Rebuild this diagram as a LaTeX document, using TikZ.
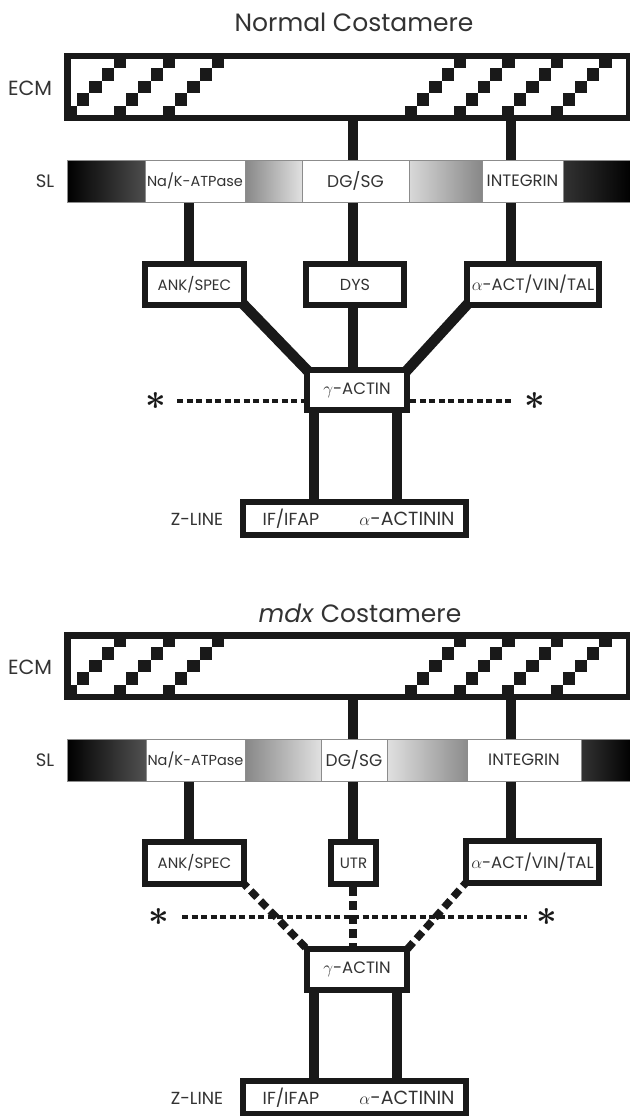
\documentclass[tikz,border=0pt]{standalone}
\usepackage{fontspec}
\setmainfont{Poppins}
\usetikzlibrary{calc}
\pgfdeclarelayer{background}
\pgfsetlayers{background,main}
\newcommand{\txtsize}[1]{\fontsize{#1}{#1}\selectfont}
\newcommand{\ecmbar}[2]{
	\node[ecmbox] (#1) at (348.25,#2) {};
	\foreach \hx in {65,114,163,405,453.5,502,550.5}
		\foreach \hj in {0,...,4}
			\fill[black!90] ({\hx+12.2*\hj},{#2+25-12.5*\hj-6.25}) rectangle +(12.2,12.5);
}
\newcommand{\slpart}[6]{
	\node[slbox,#5,minimum width={(#3-#2)*1pt}] (#1) at ({(#2+#3)/2},#4) {#6};
}
\newcommand{\bigast}{\scalebox{3.6}{\boldmath$\ast$}}

\begin{document}
\begin{tikzpicture}[x=1pt,y=-1pt,
	ecmbox/.style={draw=black!90,line width=6.5pt,fill=white,minimum width=561.5pt,minimum height=61.5pt,inner sep=0},
	slbox/.style={draw=black!45,line width=0.7pt,minimum height=42pt,inner sep=0,text=black!80},
	pbox/.style={draw=black!90,line width=6.5pt,fill=white,inner sep=0,text=black!80},
	lbl/.style={text=black!80,inner sep=0},
	astnode/.style={inner sep=0,text=black!90},
	link/.style={line width=10.5pt,black!90},
	slant/.style={shorten <=-9pt,shorten >=-9pt},
	dashlink/.style={line width=7.5pt,black!90,dash pattern=on 9pt off 5pt},
	dotline/.style={line width=4.5pt,black!90,dash pattern=on 6pt off 3.5pt}]
	\useasboundingbox (0,0) rectangle (629,1116);

	\coordinate (colA) at (189,0);
	\coordinate (colB) at (353,0);
	\coordinate (colC) at (511,0);
	\coordinate (colD) at (314,0);
	\coordinate (colE) at (397,0);

	% normal costamere
	\node[lbl] (titleA) at (354,22) {\txtsize{25}Normal Costamere};
	\node[lbl] (ecmlabA) at (30,88) {\txtsize{20.5}ECM};
	\ecmbar{ecmA}{87}
	\node[lbl] (sllabA) at (45,181) {\txtsize{18}SL};
	\slpart{slA1}{67}{145}{181}{left color=black,right color=black!70}{}
	\slpart{nakA}{145}{245}{181}{fill=white}{\txtsize{14.5}Na/K-ATPase}
	\slpart{grA1}{245}{302}{181}{left color=black!47,right color=black!12}{}
	\slpart{dgA}{302}{409}{181}{fill=white}{\txtsize{17}DG/SG}
	\slpart{grA2}{409}{482}{181}{left color=black!15,right color=black!47}{}
	\slpart{intA}{482}{563}{181}{fill=white}{\txtsize{16.5}INTEGRIN}
	\slpart{slA2}{563}{632}{181}{left color=black!80,right color=black}{}

	\node[pbox,minimum width=99pt,minimum height=41pt] (ankA) at (194.5,284.5) {\txtsize{15}ANK/SPEC};
	\node[pbox,minimum width=98pt,minimum height=41pt] (dysA) at (355,284.5) {\txtsize{16}DYS};
	\node[pbox,minimum width=132pt,minimum height=41pt] (actA) at (533,284.5) {\txtsize{16.5}$\alpha$-ACT/VIN/TAL};
	\node[pbox,minimum width=100pt,minimum height=40pt] (gamA) at (357,390) {\txtsize{16.5}$\gamma$-ACTIN};
	\node[pbox,minimum width=223pt,minimum height=33pt] (zA) at (354.5,518.5) {};
	\node[lbl] (iffA) at (291,519) {\txtsize{17.5}IF/IFAP};
	\node[lbl] (actnA) at (407,519) {\txtsize{19}$\alpha$-ACTININ};
	\node[lbl] (zlabA) at (197,519) {\txtsize{17.5}Z-LINE};
	\node[astnode] (astA1) at (156,401) {\bigast};
	\node[astnode] (astA2) at (535,401) {\bigast};

	\begin{pgfonlayer}{background}
	\draw[link] (ecmA.south -| colB) -- (dgA.north -| colB);
	\draw[link] (ecmA.south -| colC) -- (intA.north -| colC);
	\draw[link] (nakA.south -| colA) -- (ankA.north -| colA);
	\draw[link] (dgA.south -| colB) -- (dysA.north -| colB);
	\draw[link] (intA.south -| colC) -- (actA.north -| colC);
	\draw[link,slant] (ankA.south east) -- (gamA.north west);
	\draw[link] (dysA.south -| colB) -- (gamA.north -| colB);
	\draw[link,slant] (actA.south west) -- (gamA.north east);
	\draw[link] (gamA.south -| colD) -- (zA.north -| colD);
	\draw[link] (gamA.south -| colE) -- (zA.north -| colE);
	\draw[dotline,shorten <=21pt] (astA1.center) -- (astA1 -| gamA.west);
	\draw[dotline,shorten >=22pt] (gamA.east |- astA2) -- (astA2.center);
	\end{pgfonlayer}

	% mdx costamere
	\node[lbl] (titleB) at (360,613) {\txtsize{25}\textit{mdx} Costamere};
	\node[lbl] (ecmlabB) at (30,667) {\txtsize{20.5}ECM};
	\ecmbar{ecmB}{666}
	\node[lbl] (sllabB) at (45,760) {\txtsize{18}SL};
	\slpart{slB1}{67}{146}{760}{left color=black,right color=black!68}{}
	\slpart{nakB}{146}{245}{760}{fill=white}{\txtsize{14.5}Na/K-ATPase}
	\slpart{grB1}{245}{321}{760}{left color=black!47,right color=black!12}{}
	\slpart{dgB}{321}{387}{760}{fill=white}{\txtsize{17}DG/SG}
	\slpart{grB2}{387}{467}{760}{left color=black!12,right color=black!45}{}
	\slpart{intB}{467}{581}{760}{fill=white}{\txtsize{16.5}INTEGRIN}
	\slpart{slB2}{581}{632}{760}{left color=black!80,right color=black}{}

	\node[pbox,minimum width=99pt,minimum height=42pt] (ankB) at (194.5,863) {\txtsize{15}ANK/SPEC};
	\node[pbox,minimum width=45pt,minimum height=42pt] (utrB) at (353.5,863) {\txtsize{15}UTR};
	\node[pbox,minimum width=133pt,minimum height=42pt] (actB) at (532.5,862) {\txtsize{16.5}$\alpha$-ACT/VIN/TAL};
	\node[pbox,minimum width=100pt,minimum height=41pt] (gamB) at (357,969.5) {\txtsize{16.5}$\gamma$-ACTIN};
	\node[pbox,minimum width=223pt,minimum height=33pt] (zB) at (354.5,1097.5) {};
	\node[lbl] (iffB) at (291,1098) {\txtsize{17.5}IF/IFAP};
	\node[lbl] (actnB) at (407,1098) {\txtsize{19}$\alpha$-ACTININ};
	\node[lbl] (zlabB) at (197,1098) {\txtsize{17.5}Z-LINE};
	\node[astnode] (astB1) at (159,917) {\bigast};
	\node[astnode] (astB2) at (547,917) {\bigast};

	\begin{pgfonlayer}{background}
	\draw[link] (ecmB.south -| colB) -- (dgB.north -| colB);
	\draw[link] (ecmB.south -| colC) -- (intB.north -| colC);
	\draw[link] (nakB.south -| colA) -- (ankB.north -| colA);
	\draw[link] (dgB.south -| colB) -- (utrB.north -| colB);
	\draw[link] (intB.south -| colC) -- (actB.north -| colC);
	\draw[dashlink,slant] (ankB.south east) -- (gamB.north west);
	\draw[dashlink] (utrB.south -| colB) -- (gamB.north -| colB);
	\draw[dashlink,slant] (actB.south west) -- (gamB.north east);
	\draw[link] (gamB.south -| colD) -- (zB.north -| colD);
	\draw[link] (gamB.south -| colE) -- (zB.north -| colE);
	\draw[dotline,shorten <=23pt,shorten >=20pt] (astB1.center) -- (astB2.center);
	\end{pgfonlayer}
\end{tikzpicture}
\end{document}
